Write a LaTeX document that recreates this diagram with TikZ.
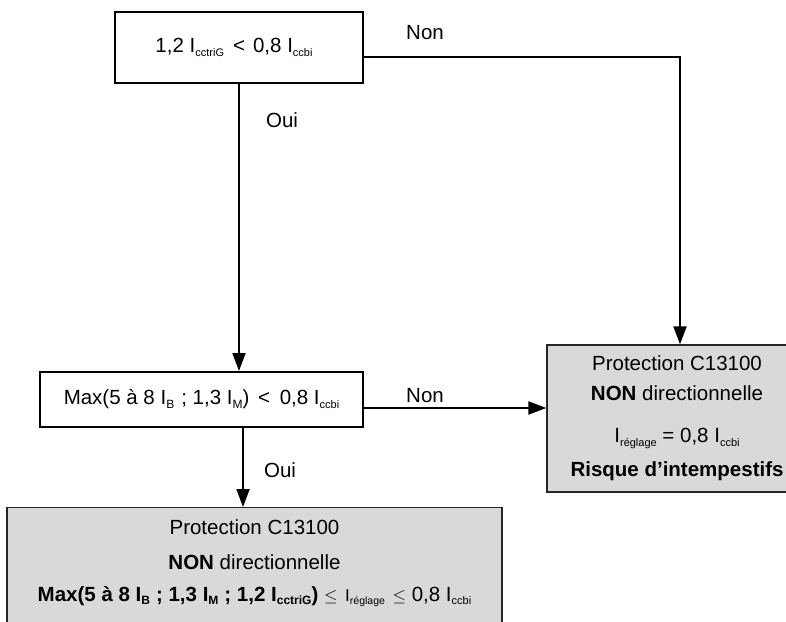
\documentclass[tikz,border=0pt]{standalone}
\usepackage{fontspec}
\setmainfont{Liberation Sans}
\usetikzlibrary{arrows.meta}
\definecolor{boxgray}{HTML}{D9D9D9}
\newcommand{\sbs}[2][11]{\raisebox{-0.3ex}{\fontsize{#1}{#1}\selectfont #2}}
\tikzset{
  whitebox/.style={draw=black, line width=2pt, fill=white, inner sep=0pt, align=center},
  graybox/.style={draw=black!85, line width=1.3pt, fill=boxgray, inner sep=0pt, align=center},
  arr/.style={line width=2pt, -{Triangle[length=18pt,width=13pt]}},
  lbl/.style={inner sep=0pt}
}
\begin{document}
\begin{tikzpicture}[x=1pt,y=-1pt,font=\fontsize{20.5}{30}\selectfont]
\clip (0,0) rectangle (786,621);
\useasboundingbox (0,0) rectangle (786,621);
% boxes
\node[whitebox, minimum width=248, minimum height=71] (b1) at (239,47.5)
  {\raisebox{-2pt}{\hspace{-10pt}1,2 I\sbs{cctriG}\hspace{9pt}<\hspace{8pt}0,8 I\sbs{ccbi}}};
\node[whitebox, minimum width=323, minimum height=55] (b2) at (201.5,399.5)
  {\raisebox{1.5pt}{Max(5 à 8 I\sbs[12]{B}\hspace{7pt}; 1,3 I\sbs[12]{M}) \hspace{3pt}<\hspace{4pt} 0,8 I\sbs{ccbi}}};
\node[graybox, minimum width=260, minimum height=147] (b3) at (677,418.5)
  {Protection C13100\\ \textbf{NON} directionnelle\\[12pt]
   I\sbs{réglage} = 0,8 I\sbs{ccbi}\\[4pt]
   \textbf{Risque d’intempestifs}};
\node[graybox, minimum width=495, minimum height=130, anchor=north] (b4) at (254.5,507) {};
\node[lbl, align=center, anchor=north] (t4) at ([yshift=-12]b4.north)
  {Protection C13100\\[5pt] \textbf{NON} directionnelle\\[2pt]
   {\bfseries Max(5 à 8 I\sbs[12]{B}\hspace{6pt}; 1,3 I\sbs[12]{M}\hspace{6pt}; 1,2 I\sbs[12]{cctriG})}
   {\fontsize{17}{17}\selectfont$\leq$}\hspace{2pt} {\fontsize{17}{17}\selectfont I}\sbs[10.5]{réglage}
   \hspace{2pt}{\fontsize{17}{17}\selectfont$\leq$} 0,8 I\sbs{ccbi}};
% connectors
\draw[arr] (b1.south) -- (b1.south |- b2.north);
\coordinate (n1) at ([yshift=-9.5]b1.east);
\coordinate (n1t) at ([xshift=3]b3.north);
\draw[arr] (n1) -| (n1t);
\coordinate (n2) at ([yshift=-8.5]b2.east);
\draw[arr] (n2) -- (n2 -| b3.west);
\coordinate (o2) at ([xshift=41.5]b2.south);
\draw[arr] (o2) -- (o2 |- b4.north);
% labels
\node[lbl] (l1) at (425,33) {Non};
\node[lbl] (l2) at (282,120) {Oui};
\node[lbl] (l3) at (425,396) {Non};
\node[lbl] (l4) at (280,470) {Oui};
\end{tikzpicture}
\end{document}
